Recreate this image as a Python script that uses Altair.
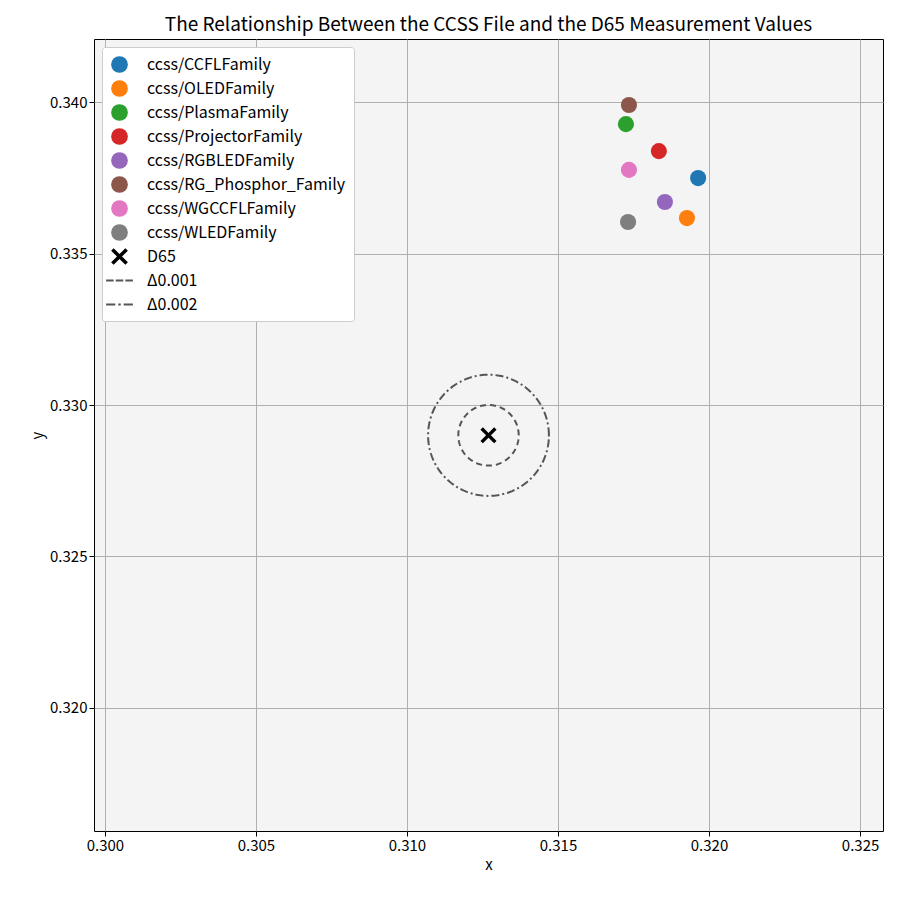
import numpy as np
import pandas as pd
import altair as alt

labels = ['ccss/CCFLFamily', 'ccss/OLEDFamily', 'ccss/PlasmaFamily', 'ccss/ProjectorFamily',
          'ccss/RGBLEDFamily', 'ccss/RG_Phosphor_Family', 'ccss/WGCCFLFamily', 'ccss/WLEDFamily']
xs = [0.31964, 0.31927, 0.31725, 0.31834, 0.31854, 0.31735, 0.31735, 0.31732]
ys = [0.33749, 0.33617, 0.33927, 0.33838, 0.33670, 0.33990, 0.33776, 0.33604]
colors = ['#1f77b4', '#ff7f0e', '#2ca02c', '#d62728', '#9467bd', '#8c564b', '#e377c2', '#7f7f7f']
d65 = (0.3127, 0.3290)
radii = [0.001, 0.002]
ring_names = ['Δ0.001', 'Δ0.002']

domain = labels + ['D65'] + ring_names
circle = 'circle'
xshape = 'M-1,-0.7L-0.7,-1L0,-0.3L0.7,-1L1,-0.7L0.3,0L1,0.7L0.7,1L0,0.3L-0.7,1L-1,0.7L-0.3,0Z'
dash = 'M-1.6,-0.12H-0.7V0.12H-1.6Z M-0.45,-0.12H0.45V0.12H-0.45Z M0.7,-0.12H1.6V0.12H0.7Z'
dashdot = 'M-1.6,-0.12H-0.5V0.12H-1.6Z M-0.15,-0.12H0.15V0.12H-0.15Z M0.5,-0.12H1.6V0.12H0.5Z'
shapes = [circle] * 8 + [xshape, dash, dashdot]
crange = colors + ['black', '#555555', '#555555']

pts = pd.DataFrame({'x': xs + [d65[0]], 'y': ys + [d65[1]], 'label': labels + ['D65']})

t = np.linspace(0, 2 * np.pi, 200)
rows = []
for r, n in zip(radii, ring_names):
    for i, a in enumerate(t):
        rows.append({'x': d65[0] + r * np.cos(a), 'y': d65[1] + r * np.sin(a), 'ring': n, 'i': i})
rings = pd.DataFrame(rows)

xsc = alt.Scale(domain=[0.29964, 0.32576], nice=False, zero=False)
ysc = alt.Scale(domain=[0.31594, 0.34208], nice=False, zero=False)
xax = alt.Axis(values=[0.300, 0.305, 0.310, 0.315, 0.320, 0.325], format='.3f', title='x')
yax = alt.Axis(values=[0.320, 0.325, 0.330, 0.335, 0.340], format='.3f', title='y')

ring_chart = alt.Chart(rings).mark_line(strokeWidth=2, clip=True).encode(
    x=alt.X('x:Q', scale=xsc, axis=xax),
    y=alt.Y('y:Q', scale=ysc, axis=yax),
    detail='ring:N',
    order='i:Q',
    color=alt.value('#555555'),
    strokeDash=alt.StrokeDash('ring:N', scale=alt.Scale(domain=ring_names, range=[[6, 4], [8, 3, 2, 3]]), legend=None),
)

points = alt.Chart(pts).mark_point(filled=True, size=260, opacity=1).encode(
    x=alt.X('x:Q', scale=xsc, axis=xax),
    y=alt.Y('y:Q', scale=ysc, axis=yax),
    color=alt.Color('label:N', scale=alt.Scale(domain=domain, range=crange), title=None,
                    legend=alt.Legend(orient='top-left', fillColor='white', strokeColor='#cccccc',
                                      padding=8, labelFontSize=16, symbolSize=280, rowPadding=6,
                                      labelLimit=400, labelOffset=18, cornerRadius=3, offset=8)),
    shape=alt.Shape('label:N', scale=alt.Scale(domain=domain, range=shapes), title=None),
)

chart = alt.layer(ring_chart, points).properties(
    width=789, height=792,
    title=alt.Title('The Relationship Between the CCSS File and the D65 Measurement Values', fontSize=19, fontWeight='normal'),
    background='white',
    padding={'left': 22, 'top': 8, 'right': 5, 'bottom': 5},
).configure(font='Noto Sans CJK JP').configure_view(fill='#f4f4f4', stroke='black').configure_axis(
    gridColor='#b0b0b0', labelFontSize=15, titleFontSize=15, titleFontWeight='normal',
    domain=False, tickColor='black', labelColor='black',
)

chart.save("out.html", embed_options={"renderer": "svg", "actions": False})
